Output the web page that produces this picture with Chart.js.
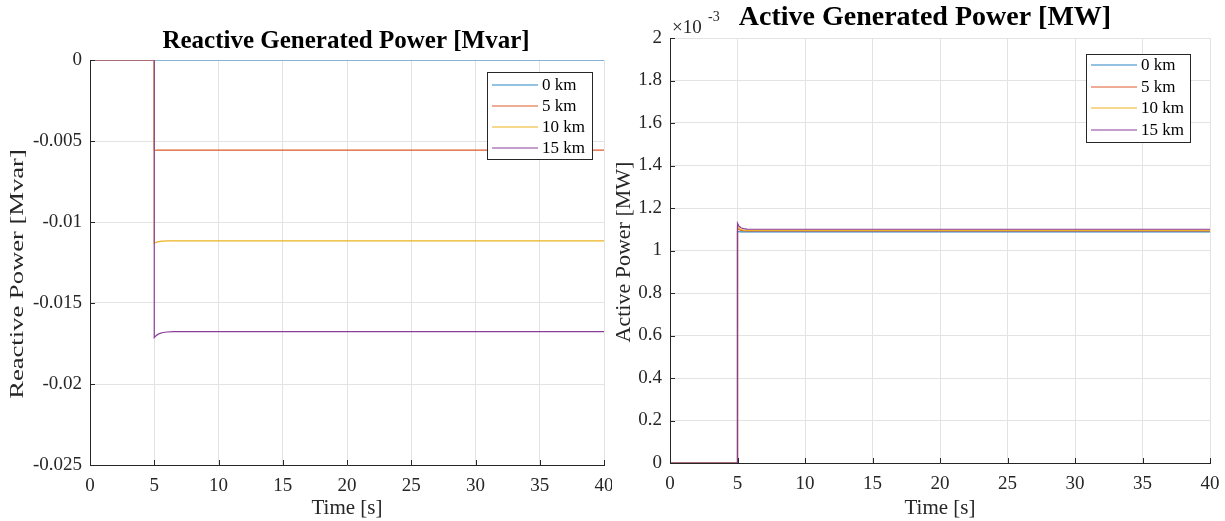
<!DOCTYPE html>
<html>
<head>
<meta charset="utf-8">
<title>Generated Power</title>
<script src="https://cdn.jsdelivr.net/npm/chart.js@4"></script>
<style>
    body { margin: 0; background: #fff; }
    #reactive { position: absolute; left: 0; top: 0; }
    #active { position: absolute; left: 612px; top: 0; }
</style>
</head>
<body>
<canvas id="reactive" width="612" height="521"></canvas>
<canvas id="active" width="613" height="521"></canvas>
<script>
// simulation time [s], step applied at t = 5 s
const time = [0, 5, 5, 5.1, 5.25, 5.45, 5.7, 6.0, 6.5, 7.5, 40];

const labels = ['0 km', '5 km', '10 km', '15 km'];
const colors = ['#2a86c8', '#dc5a28', '#edb120', '#8a3c99'];

// reactive power [Mvar]
const reactive0 = [0, 0, 0, 0, 0, 0, 0, 0, 0, 0, 0];
const reactive5 = [0, 0, -0.00558, -0.00557, -0.00556, -0.00556, -0.00556, -0.00556, -0.00556, -0.00556, -0.00556];
const reactive10 = [0, 0, -0.01131, -0.01127, -0.01123, -0.0112, -0.01118, -0.01117, -0.01117, -0.01117, -0.01117];
const reactive15 = [0, 0, -0.01714, -0.01705, -0.01695, -0.01687, -0.01682, -0.01679, -0.01677, -0.01677, -0.01677];

// active power [MW]
const active0 = [0, 0, 0.00109, 0.001089, 0.001088, 0.001088, 0.001088, 0.001088, 0.001088, 0.001088, 0.001088];
const active5 = [0, 0, 0.001105, 0.001099, 0.001095, 0.001093, 0.001092, 0.001092, 0.001092, 0.001092, 0.001092];
const active10 = [0, 0, 0.001112, 0.001104, 0.001099, 0.001096, 0.001095, 0.001095, 0.001095, 0.001095, 0.001095];
const active15 = [0, 0, 0.001128, 0.001115, 0.001107, 0.001103, 0.001101, 0.0011, 0.0011, 0.0011, 0.0011];

const xTicks = [0, 5, 10, 15, 20, 25, 30, 35, 40];

const AXIS = '#262626';
const GRID = '#e3e3e3';
const SERIF = "'Liberation Serif', 'Times New Roman', serif";

function points(values) {
    return time.map((t, i) => ({ x: t, y: values[i] }));
}

function buildDatasets(series) {
    return series.map((values, i) => ({
        label: labels[i],
        data: points(values),
        borderColor: colors[i],
        borderWidth: 1.2,
        pointRadius: 0,
        tension: 0,
        order: series.length - i
    }));
}

// matlab style: ticks point into the axes
const insideTicks = {
    id: 'insideTicks',
    afterDatasetsDraw(chart) {
        const ctx = chart.ctx;
        const area = chart.chartArea;
        const xs = chart.scales.x;
        const ys = chart.scales.y;
        ctx.save();
        ctx.strokeStyle = AXIS;
        ctx.lineWidth = 1;
        ctx.beginPath();
        xs.ticks.forEach(t => {
            const px = Math.round(xs.getPixelForValue(t.value)) + 0.5;
            ctx.moveTo(px, area.bottom);
            ctx.lineTo(px, area.bottom - 5);
        });
        ys.ticks.forEach(t => {
            const py = Math.round(ys.getPixelForValue(t.value)) + 0.5;
            ctx.moveTo(area.left, py);
            ctx.lineTo(area.left + 5, py);
        });
        ctx.stroke();
        ctx.restore();
    }
};

// boxed legend in the upper right of the axes
const boxLegend = {
    id: 'boxLegend',
    afterDatasetsDraw(chart, args, opts) {
        const ctx = chart.ctx;
        const box = opts.box;
        ctx.save();
        ctx.fillStyle = '#fff';
        ctx.fillRect(box.x, box.y, box.w, box.h);
        ctx.strokeStyle = AXIS;
        ctx.lineWidth = 1;
        ctx.strokeRect(box.x + 0.5, box.y + 0.5, box.w, box.h);
        ctx.font = '17px ' + SERIF;
        ctx.textBaseline = 'middle';
        chart.data.datasets.forEach((ds, i) => {
            const y = Math.round(box.y + opts.firstRow + i * opts.rowStep);
            ctx.strokeStyle = ds.borderColor;
            ctx.lineWidth = 1.2;
            ctx.beginPath();
            ctx.moveTo(box.x + 5, y);
            ctx.lineTo(box.x + 51, y);
            ctx.stroke();
            ctx.fillStyle = '#000';
            ctx.fillText(ds.label, box.x + 55, y + 1);
        });
        ctx.restore();
    }
};

// titles, y label (stretched along its length) and the x10^-3 multiplier
const annotations = {
    id: 'annotations',
    afterDraw(chart, args, opts) {
        const ctx = chart.ctx;
        ctx.save();
        ctx.fillStyle = '#000';
        ctx.textAlign = 'center';
        ctx.textBaseline = 'middle';
        ctx.font = 'bold ' + opts.titleSize + 'px ' + SERIF;
        ctx.fillText(opts.title, opts.titleX, opts.titleY);

        ctx.fillStyle = AXIS;
        ctx.save();
        ctx.translate(opts.yLabelX, opts.yLabelY);
        ctx.rotate(-Math.PI / 2);
        ctx.scale(opts.yLabelStretch, 1);
        ctx.font = opts.yLabelSize + 'px ' + SERIF;
        ctx.fillText(opts.yLabel, 0, 0);
        ctx.restore();

        if (opts.exponent) {
            ctx.textAlign = 'left';
            ctx.textBaseline = 'alphabetic';
            ctx.font = '19px ' + SERIF;
            ctx.fillText('\u00d710', 60, 33);
            ctx.font = '14px ' + SERIF;
            ctx.fillText('-3', 96, 21);
        }
        ctx.restore();
    }
};

function makeChart(id, cfg) {
    return new Chart(document.getElementById(id), {
        type: 'line',
        data: { datasets: buildDatasets(cfg.series) },
        options: {
            responsive: false,
            devicePixelRatio: 1,
            animation: false,
            events: [],
            layout: { padding: { left: 0, right: cfg.padRight, top: cfg.padTop, bottom: 0 } },
            scales: {
                x: {
                    type: 'linear',
                    min: 0,
                    max: 40,
                    afterBuildTicks: scale => {
                        scale.ticks = xTicks.map(v => ({ value: v }));
                    },
                    afterFit: scale => {
                        scale.height = cfg.xHeight;
                        scale.paddingLeft = 0;
                        scale.paddingRight = 0;
                    },
                    grid: { color: GRID, drawTicks: false },
                    border: { color: AXIS, width: 1 },
                    ticks: {
                        color: AXIS,
                        font: { family: SERIF, size: 19 },
                        padding: 10,
                        maxRotation: 0
                    },
                    title: {
                        display: true,
                        text: 'Time [s]',
                        color: AXIS,
                        font: { family: SERIF, size: 21 },
                        padding: { top: 0, bottom: 0 }
                    }
                },
                y: {
                    type: 'linear',
                    min: cfg.yMin,
                    max: cfg.yMax,
                    afterBuildTicks: scale => {
                        scale.ticks = cfg.yTicks.map(v => ({ value: v }));
                    },
                    afterFit: scale => {
                        scale.width = cfg.yWidth;
                        scale.paddingTop = 0;
                        scale.paddingBottom = 0;
                    },
                    grid: { color: GRID, drawTicks: false },
                    border: { color: AXIS, width: 1 },
                    ticks: {
                        color: AXIS,
                        font: { family: SERIF, size: 19 },
                        padding: 8,
                        callback: cfg.yFormat
                    }
                }
            },
            plugins: {
                legend: { display: false },
                tooltip: { enabled: false },
                boxLegend: cfg.legend,
                annotations: cfg.text
            }
        },
        plugins: [insideTicks, boxLegend, annotations]
    });
}

makeChart('reactive', {
    series: [reactive0, reactive5, reactive10, reactive15],
    yMin: -0.025,
    yMax: 0,
    yTicks: [-0.025, -0.02, -0.015, -0.01, -0.005, 0],
    yFormat: v => (v === 0 ? '0' : String(Number(v.toFixed(3)))),
    yWidth: 90,
    xHeight: 56,
    padTop: 60,
    padRight: 8,
    legend: { box: { x: 487, y: 72, w: 105, h: 87 }, firstRow: 13, rowStep: 21 },
    text: {
        title: 'Reactive Generated Power [Mvar]',
        titleSize: 25, titleX: 346, titleY: 42,
        yLabel: 'Reactive Power [Mvar]',
        yLabelSize: 19, yLabelStretch: 1.4, yLabelX: 18, yLabelY: 274,
        exponent: false
    }
});

makeChart('active', {
    series: [active0, active5, active10, active15],
    yMin: 0,
    yMax: 0.002,
    yTicks: [0, 0.0002, 0.0004, 0.0006, 0.0008, 0.001, 0.0012, 0.0014, 0.0016, 0.0018, 0.002],
    yFormat: v => String(Number((v * 1000).toFixed(1))),
    yWidth: 58,
    xHeight: 58,
    padTop: 38,
    padRight: 15,
    legend: { box: { x: 474, y: 54, w: 104, h: 88 }, firstRow: 11, rowStep: 21.5 },
    text: {
        title: 'Active Generated Power [MW]',
        titleSize: 28, titleX: 313, titleY: 18,
        yLabel: 'Active Power [MW]',
        yLabelSize: 22, yLabelStretch: 1, yLabelX: 12, yLabelY: 252,
        exponent: true
    }
});
</script>
</body>
</html>
